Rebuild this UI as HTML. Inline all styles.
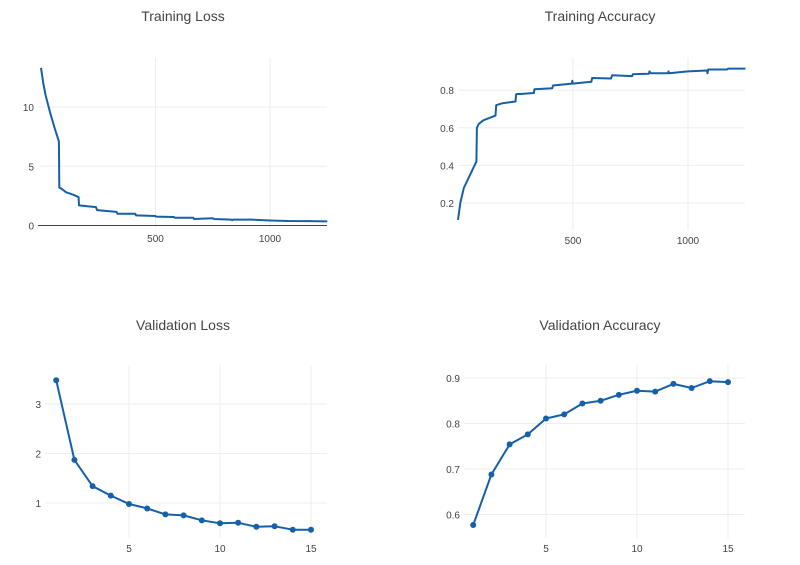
<!DOCTYPE html>
<html><head><meta charset="utf-8"><style>
body{margin:0;background:#fff;font-family:"Liberation Sans",sans-serif}
svg text{font-family:"Liberation Sans",sans-serif;fill:#444}
</style></head><body>
<svg id="s" width="800" height="560"></svg>
<script>
const tlX=[0,10,20,40,60,78,80,90,110,140,164,166,240,245,330,333,412,415,500,502,580,585,665,668,750,755,830,834,840,915,1000,1080,1170,1250];
const tlY=[13.3,12.0,11.0,9.5,8.2,7.1,3.2,3.1,2.8,2.6,2.4,1.7,1.55,1.3,1.15,1.0,1.0,0.85,0.8,0.75,0.72,0.65,0.65,0.55,0.62,0.55,0.5,0.45,0.5,0.5,0.42,0.38,0.37,0.35];
const taX=[0,10,25,80,82,90,110,163,166,190,250,252,255,270,330,332,410,413,495,497,499,580,583,665,670,757,760,830,832,840,913,915,918,1000,1083,1085,1088,1170,1175,1250];
const taY=[0.11,0.2,0.28,0.42,0.6,0.62,0.64,0.665,0.72,0.73,0.74,0.775,0.78,0.78,0.785,0.805,0.81,0.825,0.835,0.85,0.835,0.845,0.865,0.862,0.88,0.875,0.885,0.887,0.9,0.89,0.89,0.9,0.89,0.9,0.905,0.89,0.91,0.91,0.915,0.915];
const epochs=[1,2,3,4,5,6,7,8,9,10,11,12,13,14,15];
const valLoss=[3.48,1.87,1.34,1.15,0.98,0.89,0.77,0.75,0.65,0.59,0.60,0.52,0.53,0.46,0.46];
const valAcc=[0.577,0.688,0.754,0.776,0.811,0.820,0.844,0.850,0.863,0.872,0.870,0.887,0.878,0.893,0.891];
const tlXTicks=[500,1000],tlYTicks=[0,5,10];
const taXTicks=[500,1000],taYTicks=[0.2,0.4,0.6,0.8];
const vXTicks=[5,10,15],vlYTicks=[1,2,3],vaYTicks=[0.6,0.7,0.8,0.9];
const svg=document.getElementById('s');const NS='http://www.w3.org/2000/svg';
function el(t,a,p){const e=document.createElementNS(NS,t);for(const k in a)e.setAttribute(k,a[k]);(p||svg).appendChild(e);return e;}
function chart(o){
 const g=el('g',{});
 
 
 const sx=v=>o.x0+(v-o.xa)*o.kx, sy=v=>o.y0-(v-o.ya)*o.ky;
 const t=el('text',{x:o.tx,y:o.ty,'text-anchor':'middle','font-size':14},g);t.textContent=o.title;
 
 
 o.yt.forEach(v=>{const y=sy(v);
  if(!(o.zero&&v===0)){const l=el('line',{x1:o.left,x2:o.right,y1:y,y2:y,stroke:'#eee','stroke-width':1},g);}
  const tt=el('text',{x:o.left-4,y:y+4,'text-anchor':'end','font-size':10},g);tt.textContent=v;
  
  });
 o.xt.forEach(v=>{const x=sx(v);
  const l=el('line',{x1:x,x2:x,y1:o.top,y2:o.bottom,stroke:'#eee','stroke-width':1},g);
  const tt=el('text',{x:x,y:o.bottom+14,'text-anchor':'middle','font-size':10},g);tt.textContent=v;
  
  });
 if(o.zero){const z=el('line',{x1:o.left,x2:o.right,y1:sy(0),y2:sy(0),stroke:'#444','stroke-width':1},g);}
 const d=o.xs.map((v,i)=>(i?'L':'M')+sx(v).toFixed(1)+','+sy(o.ys[i]).toFixed(1)).join('');
 const p=el('path',{d:d,fill:'none',stroke:'#1660a8','stroke-width':2,'stroke-linejoin':'round'},g);
 
 
 if(o.markers)o.xs.forEach((v,i)=>{const c=el('circle',{cx:sx(v),cy:sy(o.ys[i]),r:3,fill:'#1660a8'},g);
  
  });
}
chart({name:'training-loss-chart',title:'Training Loss',tx:183,ty:21,xs:tlX,ys:tlY,xt:tlXTicks,yt:tlYTicks,x0:41,xa:0,kx:0.229,y0:225.5,ya:0,ky:11.85,left:38,right:327,top:58,bottom:228,zero:true});
chart({name:'training-accuracy-chart',title:'Training Accuracy',tx:600,ty:21,xs:taX,ys:taY,xt:taXTicks,yt:taYTicks,x0:458,xa:0,kx:0.23,y0:203,ya:0.2,ky:188,left:458,right:745,top:58,bottom:230});
chart({name:'validation-loss-chart',title:'Validation Loss',tx:183,ty:330,xs:epochs,ys:valLoss,xt:vXTicks,yt:vlYTicks,x0:129,xa:5,kx:18.2,y0:503,ya:1,ky:49.5,left:45,right:327,top:365,bottom:538,markers:true});
chart({name:'validation-accuracy-chart',title:'Validation Accuracy',tx:600,ty:330,xs:epochs,ys:valAcc,xt:vXTicks,yt:vaYTicks,x0:546,xa:5,kx:18.2,y0:514.5,ya:0.6,ky:455,left:464,right:745,top:365,bottom:538,markers:true});
</script>
</body></html>
